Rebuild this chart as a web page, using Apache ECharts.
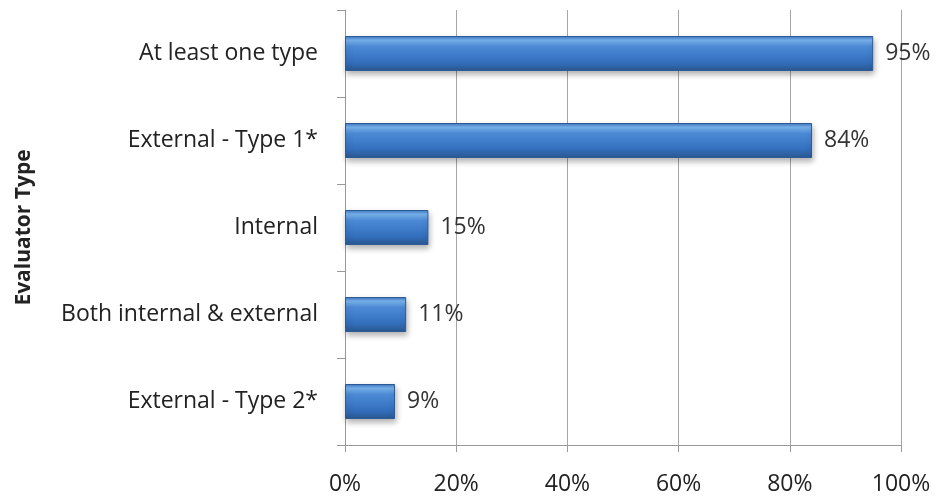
<!DOCTYPE html>
<html><head><meta charset="utf-8">
<script src="https://cdn.jsdelivr.net/npm/echarts@6/dist/echarts.min.js"></script>
<style>html,body{margin:0;padding:0;background:#fff}#c{width:944px;height:500px}</style>
</head><body><div id="c"></div>
<script>
var categories = ["External - Type 2*", "Both internal & external", "Internal", "External - Type 1*", "At least one type"];
var values = [9, 11, 15, 84, 95];
var axisName = "Evaluator Type";
var FONT = "'Open Sans', 'Liberation Sans', sans-serif";
var chart = echarts.init(document.getElementById('c'));
chart.setOption({
  animation: false,
  grid: {left: 345, right: 43, top: 10, bottom: 55},
  xAxis: {
    type: 'value', min: 0, max: 100, interval: 20,
    axisLine: {show: true, lineStyle: {color: '#999', width: 1}},
    axisTick: {show: true, length: 7, lineStyle: {color: '#999'}},
    splitLine: {show: true, lineStyle: {color: '#a6a6a6', width: 1}},
    axisLabel: {formatter: '{value}%', fontFamily: FONT, fontSize: 23, color: '#222', margin: 28}
  },
  yAxis: {
    type: 'category', data: categories,
    name: axisName, nameLocation: 'middle', nameGap: 310, nameRotate: 90,
    nameTextStyle: {fontFamily: FONT, fontSize: 21, fontWeight: 'bold', color: '#222'},
    axisLine: {show: true, lineStyle: {color: '#999'}},
    axisTick: {show: true, length: 8, lineStyle: {color: '#999'}},
    axisLabel: {fontFamily: FONT, fontSize: 23, color: '#222', margin: 27}
  },
  series: [{
    type: 'bar', data: values, barWidth: 35,
    itemStyle: {
      color: new echarts.graphic.LinearGradient(0, 0, 0, 1, [
        {offset: 0, color: '#3a74c4'},
        {offset: 0.12, color: '#7ab4ee'},
        {offset: 0.3, color: '#4c8ad6'},
        {offset: 0.75, color: '#336fbd'},
        {offset: 1, color: '#2a5890'}
      ]),
      borderColor: '#2c5a94', borderWidth: 1,
      shadowColor: 'rgba(0,0,0,0.3)', shadowBlur: 6, shadowOffsetY: 3, shadowOffsetX: 1
    },
    label: {show: true, position: 'right', distance: 12, formatter: '{c}%', fontFamily: FONT, fontSize: 23, color: '#333'}
  }]
});
</script></body></html>
